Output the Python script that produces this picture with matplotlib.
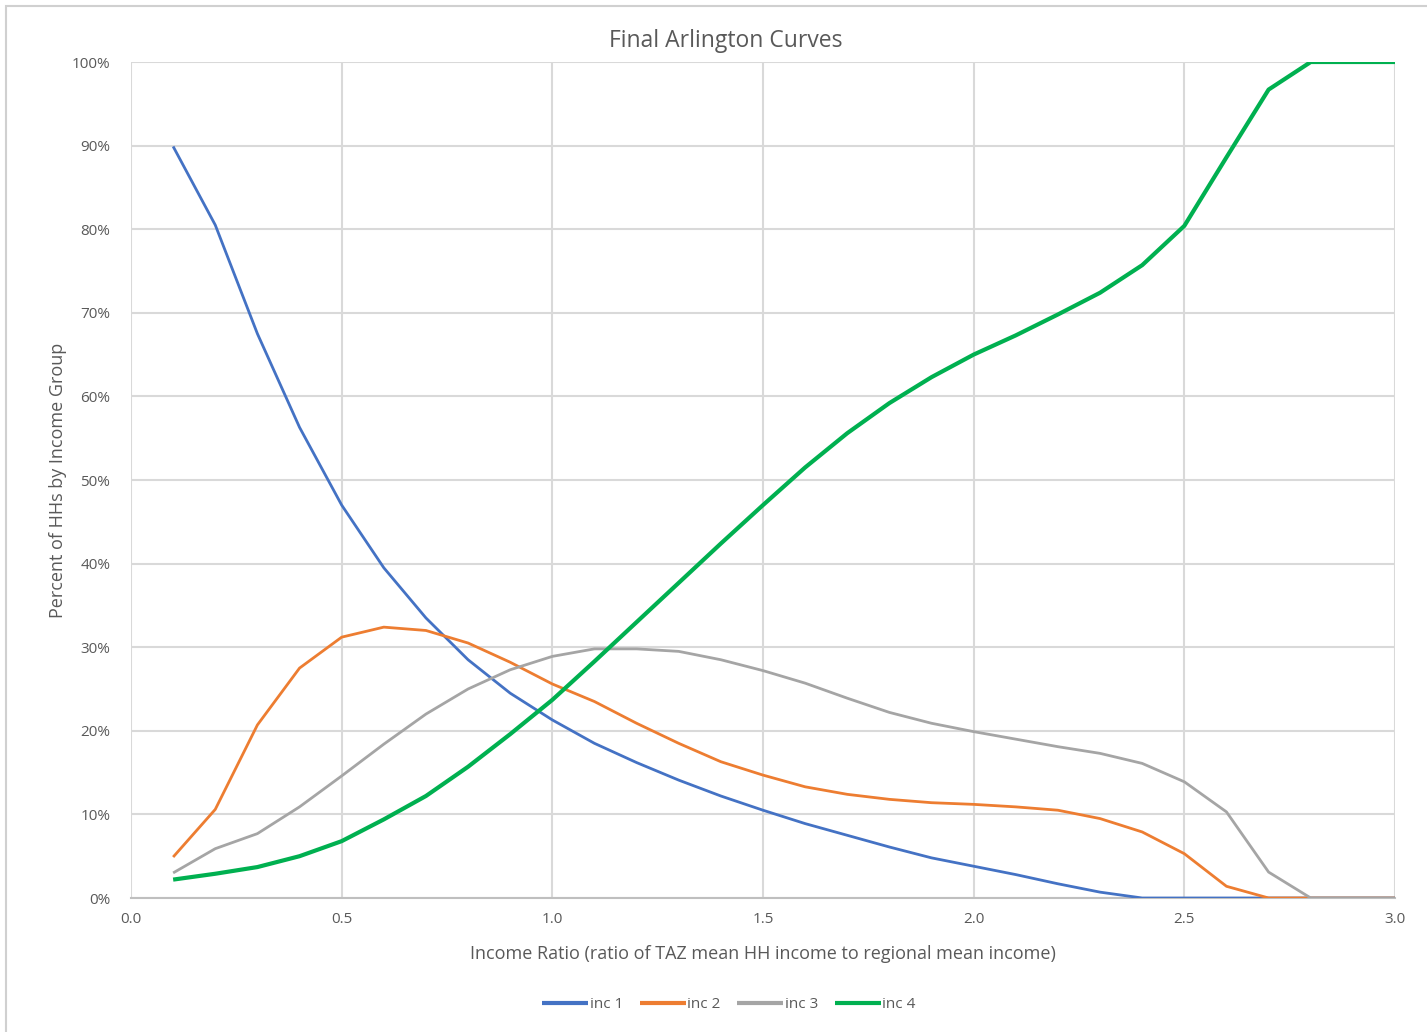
import matplotlib
matplotlib.use("Agg")
import matplotlib.pyplot as plt
from matplotlib.patches import Rectangle
from matplotlib.ticker import FuncFormatter, MultipleLocator

income_ratio = [0.1, 0.2, 0.3, 0.4, 0.5, 0.6, 0.7, 0.8, 0.9, 1.0,
                1.1, 1.2, 1.3, 1.4, 1.5, 1.6, 1.7, 1.8, 1.9, 2.0,
                2.1, 2.2, 2.3, 2.4, 2.5, 2.6, 2.7, 2.8, 2.9, 3.0]

inc1 = [89.9, 80.5, 67.5, 56.3, 47.0, 39.5, 33.5, 28.5, 24.5, 21.3,
        18.5, 16.2, 14.1, 12.2, 10.5, 8.9, 7.5, 6.1, 4.8, 3.8,
        2.8, 1.7, 0.7, 0.0, 0.0, 0.0, 0.0, 0.0, 0.0, 0.0]
inc2 = [4.9, 10.6, 20.7, 27.5, 31.2, 32.4, 32.0, 30.5, 28.2, 25.6,
        23.5, 20.9, 18.5, 16.3, 14.7, 13.3, 12.4, 11.8, 11.4, 11.2,
        10.9, 10.5, 9.5, 7.9, 5.3, 1.4, 0.0, 0.0, 0.0, 0.0]
inc3 = [3.0, 5.9, 7.7, 10.9, 14.6, 18.4, 22.0, 25.0, 27.3, 28.9,
        29.8, 29.8, 29.5, 28.5, 27.2, 25.7, 23.9, 22.2, 20.9, 19.9,
        19.0, 18.1, 17.3, 16.1, 13.9, 10.3, 3.1, 0.0, 0.0, 0.0]
inc4 = [2.2, 2.9, 3.7, 5.0, 6.8, 9.4, 12.2, 15.7, 19.6, 23.7,
        28.3, 33.0, 37.7, 42.4, 47.0, 51.5, 55.6, 59.2, 62.3, 65.0,
        67.3, 69.8, 72.4, 75.7, 80.4, 88.6, 96.7, 100.0, 100.0, 100.0]

series_names = ["inc 1", "inc 2", "inc 3", "inc 4"]

plt.rcParams['font.family'] = ['Open Sans', 'DejaVu Sans']

W, H = 1427, 1032
fig = plt.figure(figsize=(W / 100, H / 100), dpi=100)
fig.patch.set_facecolor("white")

# outer chart border
fig.add_artist(Rectangle((6 / W, -0.01), 1.02, 1 - 6 / H + 0.01, transform=fig.transFigure,
                         fill=False, edgecolor="#d0d0d0", linewidth=1.5))

left, right, top, bottom = 131, 1395, 62, 898
ax = fig.add_axes([left / W, 1 - bottom / H, (right - left) / W, (bottom - top) / H])

colors = ["#4472C4", "#ED7D31", "#A5A5A5", "#00B050"]
widths = [2.0, 2.0, 2.0, 3.0]
for vals, name, c, lw in zip([inc1, inc2, inc3, inc4], series_names, colors, widths):
    ax.plot(income_ratio, vals, color=c, linewidth=lw, label=name,
            solid_joinstyle="round", solid_capstyle="butt", zorder=3)

ax.set_xlim(0, 3.0)
ax.set_ylim(0, 100)
ax.xaxis.set_major_locator(MultipleLocator(0.5))
ax.yaxis.set_major_locator(MultipleLocator(10))
ax.xaxis.set_major_formatter(FuncFormatter(lambda v, p: f"{v:.1f}"))
ax.yaxis.set_major_formatter(FuncFormatter(lambda v, p: f"{v:.0f}%"))
ax.grid(True, color="#d9d9d9", linewidth=1.5, zorder=0)
ax.set_axisbelow(True)
for s in ["top", "right", "left"]:
    ax.spines[s].set_visible(False)
ax.spines["bottom"].set_color("#bfbfbf")
ax.spines["bottom"].set_linewidth(1.5)
ax.tick_params(axis="both", length=0, labelsize=11, colors="#595959")
ax.tick_params(axis="x", pad=10)
ax.tick_params(axis="y", pad=15)

fig.text(726 / W, 1 - 41 / H, "Final Arlington Curves", fontsize=16.5, color="#595959",
         ha="center", va="center")
ax.set_xlabel("Income Ratio (ratio of TAZ mean HH income to regional mean income)",
              fontsize=13, color="#595959", labelpad=13)
ax.set_ylabel("Percent of HHs by Income Group", fontsize=13, color="#595959", labelpad=3)

leg = fig.legend(loc="center", bbox_to_anchor=(729 / W, 1 - 1005 / H), ncol=4, frameon=False,
                 fontsize=11, handlelength=3.0, handletextpad=0.1, columnspacing=1.1)
for t in leg.get_texts():
    t.set_color("#595959")
for h in leg.legend_handles:
    h.set_linewidth(3)

fig.savefig("out.png", dpi=100, facecolor="white")
